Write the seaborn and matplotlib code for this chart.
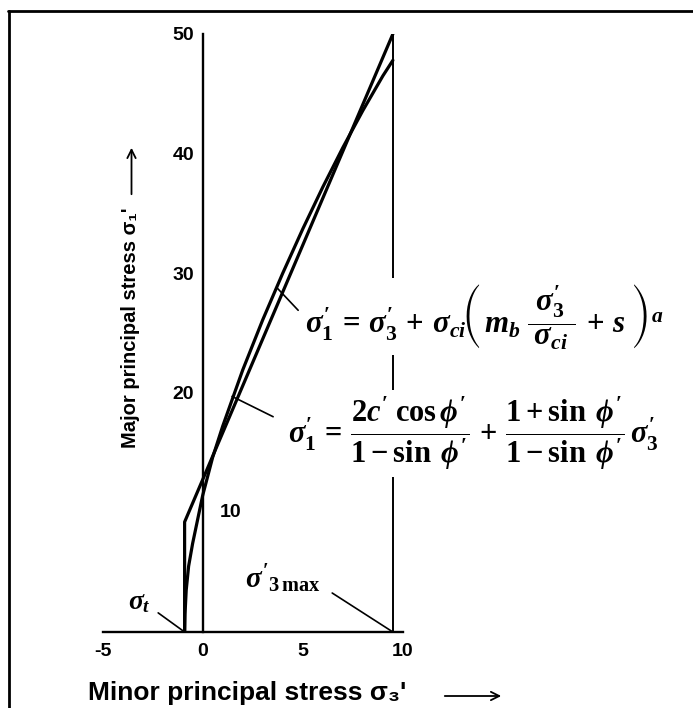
import numpy as np
import pandas as pd
import matplotlib
matplotlib.use("Agg")
import matplotlib.pyplot as plt
import seaborn as sns
from matplotlib.lines import Line2D

# ---- data ----
sigma_t = -0.9          # tensile strength (x intercept)
sigma3_max = 9.5        # upper limit of sigma3'
mc_sigma3 = [-0.9, -0.9, 9.5]
mc_sigma1 = [0.0, 9.2, 50.0]
hb_sigma3 = [-0.9, -0.88, -0.82, -0.7, -0.5, -0.25, 0.0, 0.5, 1.0, 2.0, 3.0, 4.0,
             5.0, 6.0, 7.0, 8.0, 9.0, 9.5]
hb_sigma1 = [0.0, 1.5, 3.5, 5.5, 7.4, 9.4, 11.4, 14.6, 17.2, 21.9, 26.1, 30.0,
             33.7, 37.2, 40.5, 43.6, 46.5, 47.8]
x_ticks = [-5, 0, 5, 10]
y_ticks = [10, 20, 30, 40, 50]
y_ticklabels = ["", "20", "30", "40", "50"]

sns.set_style("white")
plt.rcParams["font.family"] = ["Liberation Sans", "DejaVu Sans"]
plt.rcParams["text.color"] = "black"
plt.rcParams["axes.labelcolor"] = "black"
plt.rcParams["xtick.color"] = "black"
plt.rcParams["ytick.color"] = "black"
plt.rcParams["mathtext.fontset"] = "custom"
plt.rcParams["mathtext.rm"] = "Liberation Serif:bold"
plt.rcParams["mathtext.it"] = "Liberation Serif:italic:bold"
plt.rcParams["mathtext.bf"] = "Liberation Serif:bold"
plt.rcParams["mathtext.fallback"] = "stix"

fig = plt.figure(figsize=(6.93, 7.08), dpi=100)
fig.patch.set_facecolor("white")
ax = fig.add_axes([102.5 / 693, 1 - 632 / 708, 300.4 / 693, 598 / 708])
ax.set_facecolor("none")

mc = pd.DataFrame({"s3": mc_sigma3, "s1": mc_sigma1})
hb = pd.DataFrame({"s3": hb_sigma3, "s1": hb_sigma1})
sns.lineplot(data=mc, x="s3", y="s1", sort=False, ax=ax, color="black", lw=2.3,
             estimator=None)
sns.lineplot(data=hb, x="s3", y="s1", sort=False, ax=ax, color="black", lw=2.3,
             estimator=None)
ax.plot([sigma3_max, sigma3_max], [0, 50], color="black", lw=1.4, zorder=1)

ax.set_xlim(-5, 10)
ax.set_ylim(0, 50)
for s in ["top", "right"]:
    ax.spines[s].set_visible(False)
ax.spines["left"].set_position(("data", 0))
for s in ["left", "bottom"]:
    ax.spines[s].set_linewidth(1.7)
    ax.spines[s].set_color("black")
ax.set_xticks(x_ticks)
ax.set_xticklabels([str(v) for v in x_ticks], fontsize=14, fontweight="bold")
ax.set_yticks(y_ticks)
ax.set_yticklabels(y_ticklabels, fontsize=14, fontweight="bold")
ax.tick_params(axis="both", direction="in", length=7, width=1.5, colors="black")
ax.tick_params(axis="x", pad=8)
ax.tick_params(axis="y", pad=6)
ax.text(0.87, 10, "10", ha="left", va="center", fontsize=14, fontweight="bold",
        color="black")
ax.set_xlabel("")
ax.set_ylabel("")

# axis titles with arrows
fig.text(88 / 693, 1 - 693 / 708, "Minor principal stress σ₃'", ha="left", va="center",
         fontsize=19, fontweight="bold", color="black")
fig.patches.append(matplotlib.patches.FancyArrowPatch(
    (442 / 693, 1 - 696 / 708), (504 / 693, 1 - 696 / 708),
    transform=fig.transFigure, arrowstyle="->,head_length=6,head_width=3", lw=1.3,
    color="black"))
fig.text(130 / 693, 1 - 328 / 708, "Major principal stress σ₁'", ha="center", va="center",
         rotation=90, fontsize=14.5, fontweight="bold", color="black")
fig.patches.append(matplotlib.patches.FancyArrowPatch(
    (131.5 / 693, 1 - 197 / 708), (131.5 / 693, 1 - 145 / 708),
    transform=fig.transFigure, arrowstyle="->,head_length=6,head_width=3", lw=1.3,
    color="black"))

# equations
white = dict(facecolor="white", edgecolor="none", pad=3)
eq1 = (r"$\sigma_1^{\prime}\,=\,\sigma_3^{\prime}\,+\,\sigma_{ci}\!\left(\,m_b\;"
       r"\dfrac{\;\sigma_3^{\prime}\;}{\;\sigma_{ci}\;}\,+\,s\;\right)^{a}$")
eq2 = (r"$\sigma_1^{\prime}\,=\,\dfrac{2c^{\prime}\;\cos\phi^{\prime}}{1-\sin\;\phi^{\prime}}"
       r"\,+\,\dfrac{1+\sin\;\phi^{\prime}}{1-\sin\;\phi^{\prime}}\,\sigma_3^{\prime}$")
ax.text(5.12, 26.4, eq1, ha="left", va="center", fontsize=22.3, bbox=white,
        clip_on=False, zorder=3, color="black")
ax.text(4.27, 16.6, eq2, ha="left", va="center", fontsize=22, bbox=white,
        clip_on=False, zorder=3, color="black")
ax.plot([3.7, 4.77], [28.8, 26.9], color="black", lw=1.2, clip_on=False)
ax.plot([1.47, 3.52], [19.7, 18.0], color="black", lw=1.2, clip_on=False)

# sigma_t and sigma3max labels
ax.text(-3.17, 2.5, r"$\sigma_t$", ha="center", va="center", fontsize=20, clip_on=False,
        color="black")
ax.plot([-2.22, sigma_t], [1.6, 0], color="black", lw=1.2, clip_on=False)
ax.text(4.02, 4.43, r"$\sigma^{\prime}{}_{3\,\mathrm{max}}$", ha="center", va="center",
        fontsize=21, clip_on=False, color="black")
ax.plot([6.47, sigma3_max], [3.26, 0], color="black", lw=1.2, clip_on=False)

# frame lines of the scanned page
fig.add_artist(Line2D([9.3 / 693, 9.3 / 693], [0, 1 - 11 / 708], transform=fig.transFigure,
                      color="black", lw=2.0))
fig.add_artist(Line2D([8.3 / 693, 1], [1 - 11.2 / 708, 1 - 11.2 / 708],
                      transform=fig.transFigure, color="black", lw=2.0))

fig.savefig("out.png", dpi=100, facecolor="white")
